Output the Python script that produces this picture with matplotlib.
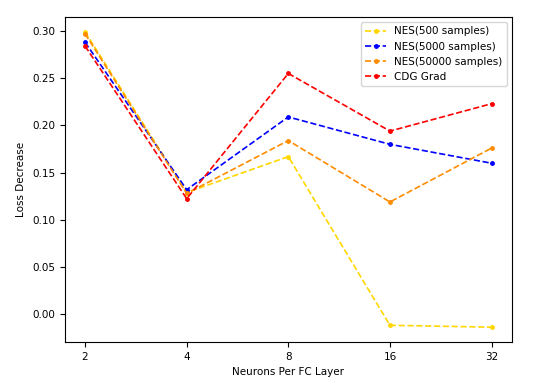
import numpy as np
import matplotlib
matplotlib.use('Agg')
from matplotlib import pyplot as plt

# neurons per fc layer
neurons = ['2', '4', '8', '16', '32']

nes500 = [0.299, 0.129, 0.167, -0.0115, -0.0135]
nes5000 = [0.288, 0.132, 0.209, 0.180, 0.160]
nes50000 = [0.297, 0.128, 0.184, 0.119, 0.176]
cdg = [0.284, 0.1225, 0.255, 0.194, 0.223]

fig = plt.figure(figsize=(5.44, 3.89), dpi=100)
ax = fig.add_subplot(111)
fig.subplots_adjust(left=0.119, right=0.941, top=0.956, bottom=0.121)

x = np.arange(len(neurons))
ax.plot(x, nes500, '.--', color='gold', lw=1.2, ms=5, label='NES(500 samples)')
ax.plot(x, nes5000, '.--', color='blue', lw=1.2, ms=5, label='NES(5000 samples)')
ax.plot(x, nes50000, '.--', color='darkorange', lw=1.2, ms=5, label='NES(50000 samples)')
ax.plot(x, cdg, '.--', color='red', lw=1.2, ms=5, label='CDG Grad')

ax.set_xticks(x)
ax.set_xticklabels(neurons)
ax.set_yticks(np.arange(0, 0.31, 0.05))
ax.set_xlabel('Neurons Per FC Layer', fontsize=7.5)
ax.set_ylabel('Loss Decrease', fontsize=7.5)
ax.tick_params(labelsize=7.5)
ax.legend(fontsize=7.5)

fig.savefig('out.png')
